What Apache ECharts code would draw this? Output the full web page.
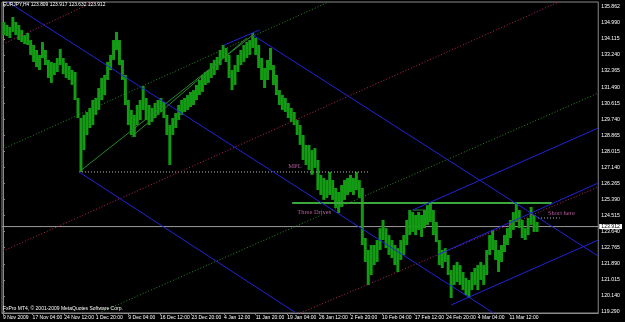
<!DOCTYPE html>
<html><head><meta charset="utf-8">
<script src="https://cdn.jsdelivr.net/npm/echarts@6/dist/echarts.min.js"></script>
<style>html,body{margin:0;padding:0;background:#000}#c{width:625px;height:322px}</style>
</head><body><div id="c"></div>
<script>
// ---- data (bar index = H4 bar number from the left edge, prices in JPY) ----
const symbol = 'EURJPY,H4';
const quote = [123.809, 123.917, 123.632, 123.912]; // O H L C of the last bar
const bid = 123.912;
const barStep = 3; // each sample below covers 3 consecutive H4 bars
const highs = [
135.03,134.87,134.76,135.30,135.03,134.87,134.60,134.32,134.43,134.05,
133.78,133.51,133.24,133.94,133.51,132.97,132.86,132.80,133.07,133.56,
133.07,132.80,132.64,132.42,132.31,130.90,129.81,129.98,130.14,130.36,
130.79,130.90,131.44,131.99,132.15,132.86,133.24,134.05,134.49,134.05,
132.97,132.15,130.79,130.25,129.98,130.52,130.79,131.55,130.90,130.52,
130.36,130.63,130.79,130.90,130.68,129.98,129.43,129.81,130.08,130.52,
130.79,130.90,131.06,131.23,131.33,131.61,131.88,132.15,132.31,132.42,
132.80,132.97,133.13,133.51,133.78,133.62,133.24,132.42,132.69,133.24,
133.51,133.78,133.94,134.05,134.43,134.16,133.78,133.07,132.53,132.97,
133.62,132.69,132.15,131.33,131.06,130.90,130.63,130.36,130.14,129.70,
129.43,128.89,128.35,128.35,128.07,128.18,127.53,126.72,126.55,126.44,
126.88,126.44,126.01,125.79,126.17,126.44,126.55,126.72,126.55,126.88,
126.44,126.01,123.29,122.64,122.91,122.91,123.18,123.83,124.27,123.83,
123.45,123.18,122.91,122.74,123.18,123.45,124.27,124.81,124.70,124.54,
124.70,124.54,124.81,125.08,125.19,124.81,124.16,123.18,122.64,122.74,
122.37,121.55,121.82,121.99,121.82,121.44,121.12,121.01,121.44,121.66,
121.82,121.99,121.82,122.64,123.45,123.73,123.18,122.64,122.91,123.45,
123.83,124.27,124.70,125.19,124.81,124.27,123.83,124.38,124.98,124.54,124.16];
const lows = [
134.32,134.27,134.16,134.49,134.32,134.05,133.94,133.83,133.78,133.24,
132.86,132.58,132.42,133.07,132.69,131.99,131.72,132.15,132.31,132.69,
132.20,131.99,131.88,131.61,130.79,129.81,126.88,128.07,128.89,129.27,
129.43,129.98,130.25,130.79,131.06,131.88,132.42,132.97,133.51,132.69,
131.88,130.52,129.43,128.89,128.78,129.43,129.70,130.25,129.70,129.43,
129.60,129.81,129.98,130.14,129.81,128.89,127.26,128.89,129.27,129.70,
129.98,130.14,130.25,130.41,130.52,130.79,131.06,131.23,131.61,131.72,
131.99,132.15,132.42,132.69,133.07,132.86,131.99,131.33,131.61,132.31,
132.69,132.86,133.07,133.24,133.62,133.24,132.53,131.88,131.44,131.88,
132.42,131.61,131.06,130.52,130.25,130.14,129.81,129.60,129.43,128.89,
128.35,127.53,127.26,126.99,126.72,127.10,125.90,125.63,125.36,125.47,
125.63,125.36,124.92,124.65,124.98,125.36,125.63,125.79,125.63,125.90,
125.47,122.91,121.99,120.74,121.28,121.82,121.99,122.64,123.18,122.74,
122.37,122.20,121.82,121.44,122.10,122.37,122.91,123.45,123.62,123.45,
123.73,123.35,123.83,124.00,124.16,123.45,123.07,121.82,121.66,121.99,
121.28,120.03,120.74,120.90,120.74,120.46,120.19,120.03,120.46,120.74,
120.46,121.01,120.74,121.28,122.37,122.64,122.10,121.44,121.99,122.53,
122.91,123.29,123.73,124.16,123.83,123.29,123.18,123.45,124.00,123.62,123.62];
const yTicks = [135.862,134.990,134.115,133.240,132.365,131.490,130.615,129.740,128.865,128.015,
127.140,126.265,125.390,124.515,123.640,122.765,121.890,121.015,120.140,119.290];
const xTickBars = [0,30,62,94,127,159,191,224,256,288,320,352,384,417,449,481,513];
const xTickLabels = ['9 Nov 2009','17 Nov 04:00','24 Nov 12:00','1 Dec 20:00','9 Dec 04:00','16 Dec 12:00',
'23 Dec 20:00','4 Jan 12:00','11 Jan 20:00','19 Jan 04:00','26 Jan 12:00','2 Feb 20:00','10 Feb 04:00',
'17 Feb 12:00','24 Feb 20:00','4 Mar 04:00','11 Mar 12:00'];
// chart objects anchored at [bar, price]
const blueLines = [
  [[5,136.12],[497,119.21]],
  [[253,134.32],[603,122.31]],
  [[77,126.88],[297,119.21]],
  [[224,133.78],[260,134.60]],
  [[415,124.81],[603,129.27]],
  [[440,122.37],[603,126.28]],
  [[454,119.65],[603,123.18]]
];
const redDotLines = [
  [[0,133.83],[92,136.12]],
  [[0,122.58],[563,136.12]],
  [[301,119.21],[603,126.06]]
];
const greenDotLines = [
  [[0,128.13],[330,136.12]],
  [[97,119.21],[603,131.17]]
];
const greenThinLines = [
  [[77,126.88],[253,134.32]],
  [[130,128.78],[247,134.16]],
  [[415,124.81],[430,124.81]]
];
const greenLevel = [[293,125.19],[556,125.19]];
const grayDotLines = [
  [[77,126.88],[370,126.88]],
  [[542,124.38],[564,124.38]]
];
const notes = [
  {text:'MPL', at:[289,127.20]},
  {text:'Three Drives', at:[298,124.70]},
  {text:'Short here', at:[552,124.65]}
];

// ---- chart ----
const barData = highs.map((h,i)=>[i*barStep, h, lows[i]]);
const FONT = 'Liberation Sans';
const series = [];
series.push({
  type:'custom', data:barData, clip:true, silent:true, z:2,
  renderItem:(params, api)=>{
    const b = api.value(0);
    const p0 = api.coord([b-0.5, api.value(1)]);
    const p1 = api.coord([b+barStep-0.5, api.value(2)]);
    return {type:'rect', shape:{x:p0[0], y:p0[1], width:p1[0]-p0[0], height:Math.max(1,p1[1]-p0[1])},
      style:{fill:'#139c13'}};
  }
});
function addLines(list, style, z){
  list.forEach(l=>series.push({type:'line', data:l, showSymbol:false, symbol:'none', silent:true,
    clip:true, z:z||3, lineStyle:style}));
}
series.push({type:'line', data:[[-1,bid],[603,bid]], symbol:'none', silent:true, z:1,
  lineStyle:{color:'#9a9a9a', width:1}});
addLines(grayDotLines, {color:'#bcbcbc', width:1, type:[1,2]});
addLines(greenDotLines, {color:'#2a8a2a', width:1, type:[1,2]});
addLines(redDotLines, {color:'#b8246a', width:1, type:[1,2]});
addLines(greenThinLines, {color:'#2a8a2a', width:1});
addLines([greenLevel], {color:'#3aa83a', width:2});
addLines(blueLines, {color:'#2323d8', width:1}, 4);
series.push({type:'scatter', data:notes.map(n=>({value:n.at, name:n.text})), symbolSize:1,
  itemStyle:{color:'rgba(0,0,0,0)'}, silent:true, z:5,
  label:{show:true, position:'inside', align:'left', verticalAlign:'middle', formatter:p=>p.name,
    color:'#e070c0', fontSize:6.5, fontFamily:'Liberation Serif'}});

const chart = echarts.init(document.getElementById('c'), null, {renderer:'canvas'});
chart.setOption({
  animation:false, backgroundColor:'#000',
  title:[
    {text: symbol + ' ' + quote.map(v=>v.toFixed(3)).join(' '), left:3, top:2, padding:0,
      textStyle:{color:'#fff', fontSize:4.9, fontWeight:'normal', fontFamily:FONT}},
    {text:'FxPro MT4, © 2001-2009 MetaQuotes Software Corp.', left:3, top:306, padding:0,
      textStyle:{color:'#fff', fontSize:5, fontWeight:'normal', fontFamily:FONT}}
  ],
  grid:{left:2, right:19, top:2, bottom:9, show:true, borderColor:'#8a8a8a', borderWidth:1, backgroundColor:'#000'},
  xAxis:{type:'value', min:-1, max:603,
    axisLine:{show:true, lineStyle:{color:'#8a8a8a'}},
    axisTick:{show:true, customValues:xTickBars, length:2, lineStyle:{color:'#8a8a8a'}},
    axisLabel:{show:true, customValues:xTickBars, align:'left', margin:2, color:'#fff', fontSize:5, fontFamily:FONT,
      formatter:v=>xTickLabels[xTickBars.indexOf(v)] || ''},
    splitLine:{show:false}},
  yAxis:[
    {type:'value', position:'right', min:119.215, max:136.117,
      axisLine:{show:true, lineStyle:{color:'#8a8a8a'}},
      axisTick:{show:true, customValues:yTicks, length:2, lineStyle:{color:'#8a8a8a'}},
      axisLabel:{show:true, customValues:yTicks, margin:3, color:'#fff', fontSize:5.2, fontFamily:FONT,
        formatter:v=>v.toFixed(3)},
      splitLine:{show:false}},
    {type:'value', position:'right', min:119.215, max:136.117,
      axisLine:{show:false}, axisTick:{show:false}, splitLine:{show:false},
      axisLabel:{show:true, customValues:[bid], margin:1, color:'#000', backgroundColor:'#fff',
        padding:[0,2], fontSize:5.2, fontFamily:FONT, formatter:v=>v.toFixed(3)}}
  ],
  series: series
});
</script></body></html>
